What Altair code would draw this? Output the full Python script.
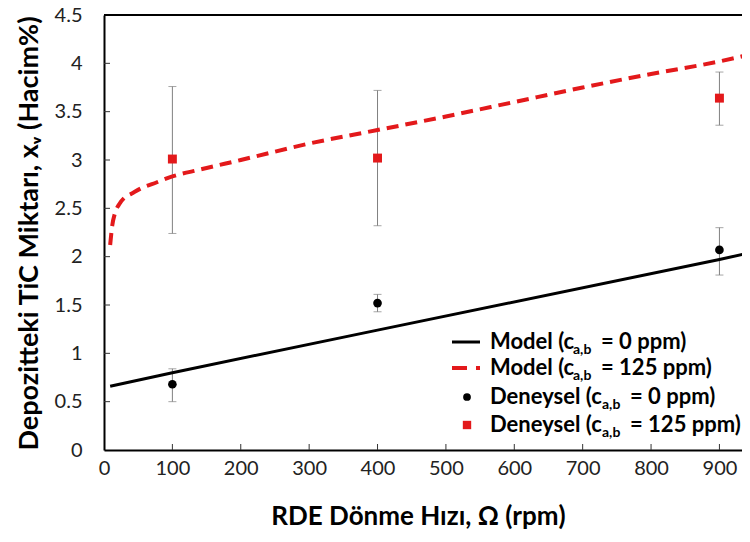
import altair as alt
import pandas as pd

# ---------------- data ----------------
exp_x = [100, 400, 900]
exp0_y = [0.68, 1.52, 2.07]
exp0_lo = [0.50, 1.43, 1.81]
exp0_hi = [0.84, 1.61, 2.30]
exp125_y = [3.01, 3.02, 3.64]
exp125_lo = [2.24, 2.32, 3.36]
exp125_hi = [3.76, 3.72, 3.91]

model0_x = [9, 100, 400, 900, 944]
model0_y = [0.66, 0.80, 1.24, 1.97, 2.04]

model125_x = [9, 12, 16, 22, 30, 40, 55, 70, 100, 140, 200, 300, 400, 500, 600, 700, 800, 900, 944]
model125_y = [2.12, 2.32, 2.45, 2.54, 2.61, 2.65, 2.71, 2.75, 2.83, 2.90, 3.00, 3.17, 3.31,
              3.45, 3.60, 3.75, 3.89, 4.02, 4.09]

x_ticks = [0, 100, 200, 300, 400, 500, 600, 700, 800, 900]
y_ticks = [0, 0.5, 1, 1.5, 2, 2.5, 3, 3.5, 4, 4.5]

legend_prefix = ["Model (c", "Model (c", "Deneysel (c", "Deneysel (c"]
legend_sub = "a,b"
legend_suffix = ["= 0 ppm)", "= 125 ppm)", "= 0 ppm)", "= 125 ppm)"]

x_title = "RDE Dönme Hızı, Ω (rpm)"
y_title = "Depozitteki TiC Miktarı, xᵥ (Hacim%)"

# ---------------- styling ----------------
W, H = 638, 435
TOP = 15           # absolute y of plot top
LEFT = 104         # absolute x of plot left
FONT = "Lato"
RED = "#e3191b"
GREY = "#808080"

xs = alt.Scale(domain=[0, 933], nice=False, zero=False)
ys = alt.Scale(domain=[0, 4.5], nice=False)

exp_df = pd.DataFrame({"x": exp_x, "y0": exp0_y, "lo0": exp0_lo, "hi0": exp0_hi,
                       "y1": exp125_y, "lo1": exp125_lo, "hi1": exp125_hi})
m0 = pd.DataFrame({"x": model0_x, "y": model0_y})
m1 = pd.DataFrame({"x": model125_x, "y": model125_y})

xaxis = alt.Axis(values=x_ticks, tickSize=0, grid=False, domainColor="black", domainWidth=2,
                 labelFontSize=20, labelFont=FONT, labelColor="#222", labelPadding=8,
                 title=x_title, titleFont=FONT, titleFontSize=26, titleFontWeight="bold",
                 titleColor="black", titlePadding=25, titleX=418 - LEFT, labelFlush=False)
yaxis = alt.Axis(values=y_ticks, tickSize=0, grid=False, domainColor="black", domainWidth=2,
                 labelFontSize=20, labelFont=FONT, labelColor="#222", labelPadding=22,
                 format="~g", labelFlush=False,
                 title=y_title, titleFont=FONT, titleFontSize=27, titleFontWeight="bold",
                 titleColor="black", titleX=29.5 - LEFT, titleY=233 - TOP, titleBaseline="middle")

base_axes = alt.Chart(m0).mark_line(opacity=0).encode(
    x=alt.X("x:Q", scale=xs, axis=xaxis),
    y=alt.Y("y:Q", scale=ys, axis=yaxis),
)

# inner tick marks
xt = alt.Chart(pd.DataFrame({"x": x_ticks[1:]})).mark_rule(color="#333", strokeWidth=1).encode(
    x=alt.X("x:Q", scale=xs), y=alt.value(H), y2=alt.value(H - 6))
yt = alt.Chart(pd.DataFrame({"y": y_ticks[1:]})).mark_rule(color="#333", strokeWidth=1).encode(
    y=alt.Y("y:Q", scale=ys), x=alt.value(0), x2=alt.value(6))
top = alt.Chart(pd.DataFrame({"a": [0]})).mark_rule(color="black", strokeWidth=2).encode(
    x=alt.value(0), x2=alt.value(W), y=alt.value(0))

line0 = alt.Chart(m0).mark_line(color="black", strokeWidth=3, clip=True).encode(
    x=alt.X("x:Q", scale=xs), y=alt.Y("y:Q", scale=ys))
line1 = alt.Chart(m1).mark_line(color=RED, strokeWidth=4, strokeDash=[12, 7], clip=True,
                                interpolate="monotone").encode(
    x=alt.X("x:Q", scale=xs), y=alt.Y("y:Q", scale=ys))

err0 = alt.Chart(exp_df).mark_rule(color=GREY, strokeWidth=1).encode(
    x=alt.X("x:Q", scale=xs), y=alt.Y("lo0:Q", scale=ys), y2="hi0:Q")
err1 = alt.Chart(exp_df).mark_rule(color=GREY, strokeWidth=1).encode(
    x=alt.X("x:Q", scale=xs), y=alt.Y("lo1:Q", scale=ys), y2="hi1:Q")
caps = []
for c in ["lo0", "hi0", "lo1", "hi1"]:
    caps.append(alt.Chart(exp_df).mark_tick(color=GREY, orient="horizontal", size=8, thickness=1).encode(
        x=alt.X("x:Q", scale=xs), y=alt.Y(f"{c}:Q", scale=ys)))

pts0 = alt.Chart(exp_df).mark_point(shape="circle", filled=True, size=75, color="black", opacity=1).encode(
    x=alt.X("x:Q", scale=xs), y=alt.Y("y0:Q", scale=ys))
pts1 = alt.Chart(exp_df).mark_point(shape="square", filled=True, size=80, color=RED, opacity=1).encode(
    x=alt.X("x:Q", scale=xs), y=alt.Y("y1:Q", scale=ys))

# ---------------- manual legend (for subscripts) ----------------
one = pd.DataFrame({"a": [0]})
leg_y = [v - TOP for v in [342, 368, 397, 425]]
text_x = 490 - LEFT
sub_x = [v - LEFT for v in [573, 573, 602, 602]]
suf_x = [v - LEFT for v in [601, 601, 630, 630]]
sym_x0, sym_x1, sym_c = 452 - LEFT, 480 - LEFT, 467 - LEFT
legend = []
legend.append(alt.Chart(one).mark_rule(color="black", strokeWidth=3).encode(
    x=alt.value(sym_x0), x2=alt.value(sym_x1), y=alt.value(leg_y[0])))
legend.append(alt.Chart(one).mark_rule(color=RED, strokeWidth=4, strokeDash=[15, 9]).encode(
    x=alt.value(sym_x0), x2=alt.value(sym_x1), y=alt.value(leg_y[1])))
legend.append(alt.Chart(one).mark_point(shape="circle", filled=True, size=60, color="black", opacity=1).encode(
    x=alt.value(sym_c), y=alt.value(leg_y[2])))
legend.append(alt.Chart(one).mark_point(shape="square", filled=True, size=70, color=RED, opacity=1).encode(
    x=alt.value(sym_c), y=alt.value(leg_y[3])))
for i in range(4):
    legend.append(alt.Chart(one).mark_text(font=FONT, fontSize=22, fontWeight="bold", align="left",
                                           baseline="middle", color="black").encode(
        x=alt.value(text_x), y=alt.value(leg_y[i]), text=alt.value(legend_prefix[i])))
    legend.append(alt.Chart(one).mark_text(font=FONT, fontSize=14, fontWeight="bold", align="left",
                                           baseline="middle", color="black").encode(
        x=alt.value(sub_x[i]), y=alt.value(leg_y[i] + 8), text=alt.value(legend_sub)))
    legend.append(alt.Chart(one).mark_text(font=FONT, fontSize=22, fontWeight="bold", align="left",
                                           baseline="middle", color="black").encode(
        x=alt.value(suf_x[i]), y=alt.value(leg_y[i]), text=alt.value(legend_suffix[i])))

chart = alt.layer(base_axes, xt, yt, top, err0, err1, *caps, line0, line1, pts0, pts1, *legend).properties(
    width=W, height=H,
    autosize=alt.AutoSizeParams(type="none"),
    padding={"left": LEFT - 8, "top": TOP - 8, "right": 0, "bottom": 526 - (TOP - 8) - H},
    background="white",
).configure_view(stroke=None)

chart.save("out.html", embed_options={"renderer": "svg", "actions": False})
